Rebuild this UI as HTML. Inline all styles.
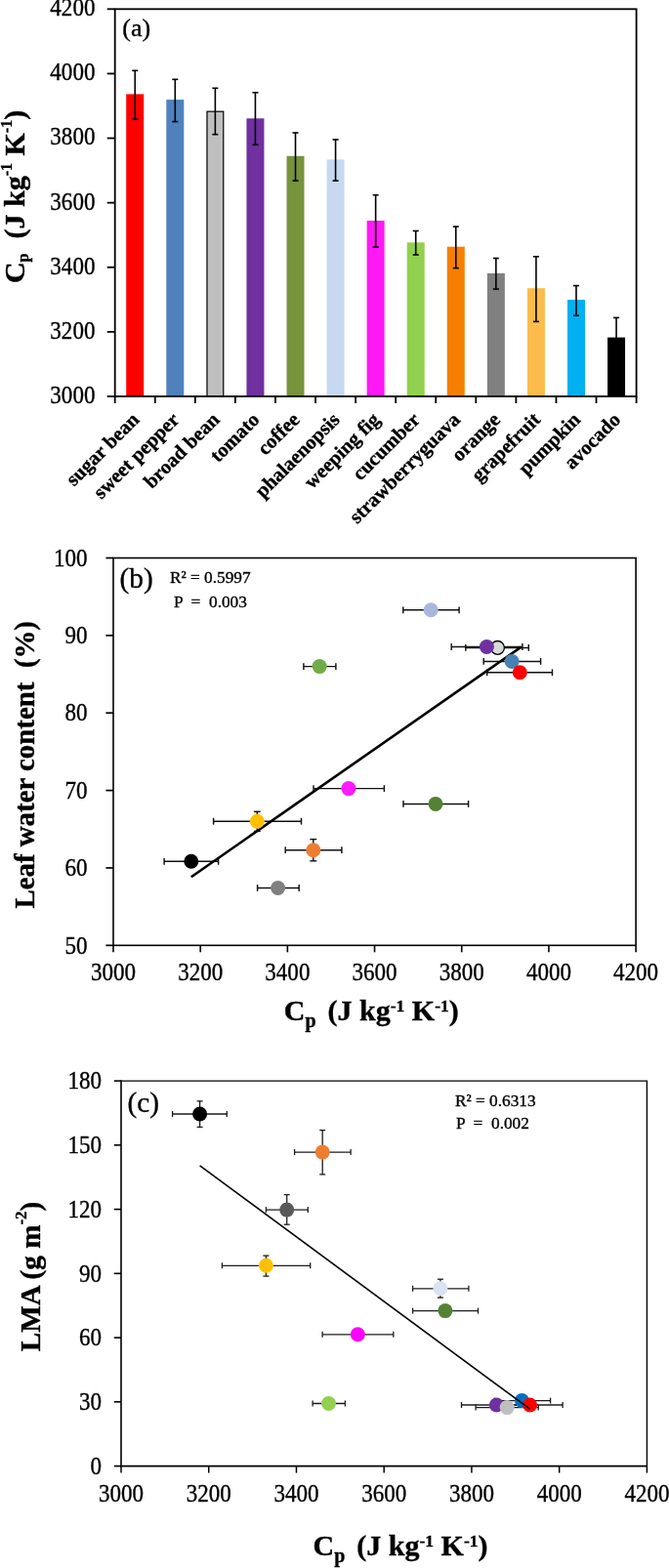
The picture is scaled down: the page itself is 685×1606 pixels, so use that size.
<!DOCTYPE html>
<html lang="en"><head><meta charset="utf-8"><title>Figure: leaf specific heat capacity</title>
<style>
html,body{margin:0;padding:0;background:#fff;}
body{width:685px;height:1606px;overflow:hidden;}
svg{display:block;}
text{font-family:"Liberation Serif", "DejaVu Serif", serif;fill:#000;stroke:#000;stroke-width:0.35px;white-space:pre;}
.tk{font-size:24px;}
.ax{font-size:30px;font-weight:bold;}
.cat{font-size:20.5px;font-weight:bold;}
.pl{font-size:26px;}
.pl2{font-size:29.3px;}
.st{font-size:17.3px;}
.sup{font-size:16px;font-weight:bold;}
</style></head><body>
<svg width="685" height="1606" viewBox="0 0 685 1606">
<rect x="0" y="0" width="685" height="1606" fill="#ffffff"/>
<g id="chart-a">
<rect x="129.23" y="96.4" width="18" height="309.6" fill="#FF0000"/>
<rect x="170.3" y="102.1" width="18" height="303.9" fill="#4F81BD"/>
<rect x="211.97" y="114.2" width="16.8" height="291.8" fill="#BFBFBF" stroke="#000" stroke-width="1.2"/>
<rect x="252.44" y="121.3" width="18" height="284.7" fill="#7030A0"/>
<rect x="293.51" y="159.8" width="18" height="246.2" fill="#77933C"/>
<rect x="334.58" y="163.4" width="18" height="242.6" fill="#C6D9F1"/>
<rect x="375.65" y="226" width="18" height="180" fill="#FF19F5"/>
<rect x="416.72" y="248.3" width="18" height="157.7" fill="#92D050"/>
<rect x="457.79" y="252.7" width="18" height="153.3" fill="#F77F00"/>
<rect x="498.86" y="279.9" width="18" height="126.1" fill="#808080"/>
<rect x="539.93" y="295.2" width="18" height="110.8" fill="#FBBC4B"/>
<rect x="581" y="307" width="18" height="99" fill="#00B0F0"/>
<rect x="622.07" y="345.6" width="18" height="60.4" fill="#000000"/>
<line x1="138.23" y1="72.3" x2="138.23" y2="122.1" stroke="#000" stroke-width="1.6"/>
<line x1="135.23" y1="72.3" x2="141.23" y2="72.3" stroke="#000" stroke-width="1.6"/>
<line x1="135.23" y1="122.1" x2="141.23" y2="122.1" stroke="#000" stroke-width="1.6"/>
<line x1="179.3" y1="81.3" x2="179.3" y2="124.6" stroke="#000" stroke-width="1.6"/>
<line x1="176.3" y1="81.3" x2="182.3" y2="81.3" stroke="#000" stroke-width="1.6"/>
<line x1="176.3" y1="124.6" x2="182.3" y2="124.6" stroke="#000" stroke-width="1.6"/>
<line x1="220.37" y1="90.3" x2="220.37" y2="137.7" stroke="#000" stroke-width="1.6"/>
<line x1="217.37" y1="90.3" x2="223.37" y2="90.3" stroke="#000" stroke-width="1.6"/>
<line x1="217.37" y1="137.7" x2="223.37" y2="137.7" stroke="#000" stroke-width="1.6"/>
<line x1="261.44" y1="94.8" x2="261.44" y2="148.3" stroke="#000" stroke-width="1.6"/>
<line x1="258.44" y1="94.8" x2="264.44" y2="94.8" stroke="#000" stroke-width="1.6"/>
<line x1="258.44" y1="148.3" x2="264.44" y2="148.3" stroke="#000" stroke-width="1.6"/>
<line x1="302.51" y1="136" x2="302.51" y2="185.1" stroke="#000" stroke-width="1.6"/>
<line x1="299.51" y1="136" x2="305.51" y2="136" stroke="#000" stroke-width="1.6"/>
<line x1="299.51" y1="185.1" x2="305.51" y2="185.1" stroke="#000" stroke-width="1.6"/>
<line x1="343.58" y1="143" x2="343.58" y2="185.1" stroke="#000" stroke-width="1.6"/>
<line x1="340.58" y1="143" x2="346.58" y2="143" stroke="#000" stroke-width="1.6"/>
<line x1="340.58" y1="185.1" x2="346.58" y2="185.1" stroke="#000" stroke-width="1.6"/>
<line x1="384.65" y1="199.7" x2="384.65" y2="253.1" stroke="#000" stroke-width="1.6"/>
<line x1="381.65" y1="199.7" x2="387.65" y2="199.7" stroke="#000" stroke-width="1.6"/>
<line x1="381.65" y1="253.1" x2="387.65" y2="253.1" stroke="#000" stroke-width="1.6"/>
<line x1="425.72" y1="236.5" x2="425.72" y2="261" stroke="#000" stroke-width="1.6"/>
<line x1="422.72" y1="236.5" x2="428.72" y2="236.5" stroke="#000" stroke-width="1.6"/>
<line x1="422.72" y1="261" x2="428.72" y2="261" stroke="#000" stroke-width="1.6"/>
<line x1="466.79" y1="232.1" x2="466.79" y2="274.6" stroke="#000" stroke-width="1.6"/>
<line x1="463.79" y1="232.1" x2="469.79" y2="232.1" stroke="#000" stroke-width="1.6"/>
<line x1="463.79" y1="274.6" x2="469.79" y2="274.6" stroke="#000" stroke-width="1.6"/>
<line x1="507.86" y1="264.5" x2="507.86" y2="296.1" stroke="#000" stroke-width="1.6"/>
<line x1="504.86" y1="264.5" x2="510.86" y2="264.5" stroke="#000" stroke-width="1.6"/>
<line x1="504.86" y1="296.1" x2="510.86" y2="296.1" stroke="#000" stroke-width="1.6"/>
<line x1="548.93" y1="262.8" x2="548.93" y2="329.4" stroke="#000" stroke-width="1.6"/>
<line x1="545.93" y1="262.8" x2="551.93" y2="262.8" stroke="#000" stroke-width="1.6"/>
<line x1="545.93" y1="329.4" x2="551.93" y2="329.4" stroke="#000" stroke-width="1.6"/>
<line x1="590" y1="292.6" x2="590" y2="323.2" stroke="#000" stroke-width="1.6"/>
<line x1="587" y1="292.6" x2="593" y2="292.6" stroke="#000" stroke-width="1.6"/>
<line x1="587" y1="323.2" x2="593" y2="323.2" stroke="#000" stroke-width="1.6"/>
<line x1="631.07" y1="325.4" x2="631.07" y2="365" stroke="#000" stroke-width="1.6"/>
<line x1="628.07" y1="325.4" x2="634.07" y2="325.4" stroke="#000" stroke-width="1.6"/>
<line x1="628.07" y1="365" x2="634.07" y2="365" stroke="#000" stroke-width="1.6"/>
<rect x="117.7" y="9.3" width="533.9" height="396.7" fill="none" stroke="#000" stroke-width="1.8"/>
<line x1="109.7" y1="406" x2="117.7" y2="406" stroke="#000" stroke-width="1.8"/>
<text class="tk" transform="translate(97.4 412.9) scale(0.96 1.035)" text-anchor="end">3000</text>
<line x1="109.7" y1="339.88" x2="117.7" y2="339.88" stroke="#000" stroke-width="1.8"/>
<text class="tk" transform="translate(97.4 346.78) scale(0.96 1.035)" text-anchor="end">3200</text>
<line x1="109.7" y1="273.77" x2="117.7" y2="273.77" stroke="#000" stroke-width="1.8"/>
<text class="tk" transform="translate(97.4 280.67) scale(0.96 1.035)" text-anchor="end">3400</text>
<line x1="109.7" y1="207.65" x2="117.7" y2="207.65" stroke="#000" stroke-width="1.8"/>
<text class="tk" transform="translate(97.4 214.55) scale(0.96 1.035)" text-anchor="end">3600</text>
<line x1="109.7" y1="141.53" x2="117.7" y2="141.53" stroke="#000" stroke-width="1.8"/>
<text class="tk" transform="translate(97.4 148.43) scale(0.96 1.035)" text-anchor="end">3800</text>
<line x1="109.7" y1="75.42" x2="117.7" y2="75.42" stroke="#000" stroke-width="1.8"/>
<text class="tk" transform="translate(97.4 82.32) scale(0.96 1.035)" text-anchor="end">4000</text>
<line x1="109.7" y1="9.3" x2="117.7" y2="9.3" stroke="#000" stroke-width="1.8"/>
<text class="tk" transform="translate(97.4 16.2) scale(0.96 1.035)" text-anchor="end">4200</text>
<line x1="117.7" y1="406" x2="117.7" y2="413" stroke="#000" stroke-width="1.8"/>
<line x1="158.77" y1="406" x2="158.77" y2="413" stroke="#000" stroke-width="1.8"/>
<line x1="199.84" y1="406" x2="199.84" y2="413" stroke="#000" stroke-width="1.8"/>
<line x1="240.91" y1="406" x2="240.91" y2="413" stroke="#000" stroke-width="1.8"/>
<line x1="281.98" y1="406" x2="281.98" y2="413" stroke="#000" stroke-width="1.8"/>
<line x1="323.05" y1="406" x2="323.05" y2="413" stroke="#000" stroke-width="1.8"/>
<line x1="364.12" y1="406" x2="364.12" y2="413" stroke="#000" stroke-width="1.8"/>
<line x1="405.18" y1="406" x2="405.18" y2="413" stroke="#000" stroke-width="1.8"/>
<line x1="446.25" y1="406" x2="446.25" y2="413" stroke="#000" stroke-width="1.8"/>
<line x1="487.32" y1="406" x2="487.32" y2="413" stroke="#000" stroke-width="1.8"/>
<line x1="528.39" y1="406" x2="528.39" y2="413" stroke="#000" stroke-width="1.8"/>
<line x1="569.46" y1="406" x2="569.46" y2="413" stroke="#000" stroke-width="1.8"/>
<line x1="610.53" y1="406" x2="610.53" y2="413" stroke="#000" stroke-width="1.8"/>
<line x1="651.6" y1="406" x2="651.6" y2="413" stroke="#000" stroke-width="1.8"/>
<text class="cat" x="143.6" y="431" text-anchor="end" transform="rotate(-45 143.6 431)">sugar bean</text>
<text class="cat" x="184.67" y="431" text-anchor="end" transform="rotate(-45 184.67 431)">sweet pepper</text>
<text class="cat" x="225.74" y="431" text-anchor="end" transform="rotate(-45 225.74 431)">broad bean</text>
<text class="cat" x="266.81" y="431" text-anchor="end" transform="rotate(-45 266.81 431)">tomato</text>
<text class="cat" x="307.88" y="431" text-anchor="end" transform="rotate(-45 307.88 431)">coffee</text>
<text class="cat" x="348.95" y="431" text-anchor="end" transform="rotate(-45 348.95 431)">phalaenopsis</text>
<text class="cat" x="390.02" y="431" text-anchor="end" transform="rotate(-45 390.02 431)">weeping fig</text>
<text class="cat" x="431.08" y="431" text-anchor="end" transform="rotate(-45 431.08 431)">cucumber</text>
<text class="cat" x="472.15" y="431" text-anchor="end" transform="rotate(-45 472.15 431)">strawberryguava</text>
<text class="cat" x="513.22" y="431" text-anchor="end" transform="rotate(-45 513.22 431)">orange</text>
<text class="cat" x="554.29" y="431" text-anchor="end" transform="rotate(-45 554.29 431)">grapefruit</text>
<text class="cat" x="595.36" y="431" text-anchor="end" transform="rotate(-45 595.36 431)">pumpkin</text>
<text class="cat" x="636.43" y="431" text-anchor="end" transform="rotate(-45 636.43 431)">avocado</text>
<text class="pl" x="125.3" y="37.2">(a)</text>
<text class="ax" x="24.9" y="201.5" text-anchor="middle" xml:space="preserve" transform="rotate(-90 24.9 201.5)">C<tspan font-size="16" font-weight="bold" dy="4.5">p</tspan><tspan dy="-4.5" dx="0">  (J kg</tspan><tspan font-size="16" font-weight="bold" dy="-13">-1</tspan><tspan dy="13"> K</tspan><tspan font-size="16" font-weight="bold" dy="-13">-1</tspan><tspan dy="13">)</tspan></text>
</g>
<g id="chart-b">
<line x1="412.8" y1="624.8" x2="470.1" y2="624.8" stroke="#111" stroke-width="1.45"/>
<line x1="412.8" y1="621.4" x2="412.8" y2="628.2" stroke="#111" stroke-width="1.45"/>
<line x1="470.1" y1="621.4" x2="470.1" y2="628.2" stroke="#111" stroke-width="1.45"/>
<line x1="476.8" y1="663.4" x2="541.3" y2="663.4" stroke="#111" stroke-width="1.45"/>
<line x1="476.8" y1="660" x2="476.8" y2="666.8" stroke="#111" stroke-width="1.45"/>
<line x1="541.3" y1="660" x2="541.3" y2="666.8" stroke="#111" stroke-width="1.45"/>
<line x1="462.2" y1="662.5" x2="534.9" y2="662.5" stroke="#111" stroke-width="1.45"/>
<line x1="462.2" y1="659.1" x2="462.2" y2="665.9" stroke="#111" stroke-width="1.45"/>
<line x1="534.9" y1="659.1" x2="534.9" y2="665.9" stroke="#111" stroke-width="1.45"/>
<line x1="495.2" y1="677.4" x2="553.6" y2="677.4" stroke="#111" stroke-width="1.45"/>
<line x1="495.2" y1="674" x2="495.2" y2="680.8" stroke="#111" stroke-width="1.45"/>
<line x1="553.6" y1="674" x2="553.6" y2="680.8" stroke="#111" stroke-width="1.45"/>
<line x1="498.7" y1="688.8" x2="565.5" y2="688.8" stroke="#111" stroke-width="1.45"/>
<line x1="498.7" y1="685.4" x2="498.7" y2="692.2" stroke="#111" stroke-width="1.45"/>
<line x1="565.5" y1="685.4" x2="565.5" y2="692.2" stroke="#111" stroke-width="1.45"/>
<line x1="310.9" y1="682.6" x2="343.9" y2="682.6" stroke="#111" stroke-width="1.45"/>
<line x1="310.9" y1="679.2" x2="310.9" y2="686" stroke="#111" stroke-width="1.45"/>
<line x1="343.9" y1="679.2" x2="343.9" y2="686" stroke="#111" stroke-width="1.45"/>
<line x1="321" y1="807.6" x2="393.4" y2="807.6" stroke="#111" stroke-width="1.45"/>
<line x1="321" y1="804.2" x2="321" y2="811" stroke="#111" stroke-width="1.45"/>
<line x1="393.4" y1="804.2" x2="393.4" y2="811" stroke="#111" stroke-width="1.45"/>
<line x1="413" y1="823.4" x2="479.6" y2="823.4" stroke="#111" stroke-width="1.45"/>
<line x1="413" y1="820" x2="413" y2="826.8" stroke="#111" stroke-width="1.45"/>
<line x1="479.6" y1="820" x2="479.6" y2="826.8" stroke="#111" stroke-width="1.45"/>
<line x1="218.6" y1="841.2" x2="308.5" y2="841.2" stroke="#111" stroke-width="1.45"/>
<line x1="218.6" y1="837.8" x2="218.6" y2="844.6" stroke="#111" stroke-width="1.45"/>
<line x1="308.5" y1="837.8" x2="308.5" y2="844.6" stroke="#111" stroke-width="1.45"/>
<line x1="263.3" y1="831.3" x2="263.3" y2="851.4" stroke="#111" stroke-width="1.45"/>
<line x1="259.9" y1="831.3" x2="266.7" y2="831.3" stroke="#111" stroke-width="1.45"/>
<line x1="259.9" y1="851.4" x2="266.7" y2="851.4" stroke="#111" stroke-width="1.45"/>
<line x1="292.2" y1="870.7" x2="349.9" y2="870.7" stroke="#111" stroke-width="1.45"/>
<line x1="292.2" y1="867.3" x2="292.2" y2="874.1" stroke="#111" stroke-width="1.45"/>
<line x1="349.9" y1="867.3" x2="349.9" y2="874.1" stroke="#111" stroke-width="1.45"/>
<line x1="320.8" y1="859.6" x2="320.8" y2="881.8" stroke="#111" stroke-width="1.45"/>
<line x1="317.4" y1="859.6" x2="324.2" y2="859.6" stroke="#111" stroke-width="1.45"/>
<line x1="317.4" y1="881.8" x2="324.2" y2="881.8" stroke="#111" stroke-width="1.45"/>
<line x1="168.1" y1="882.3" x2="223.6" y2="882.3" stroke="#111" stroke-width="1.45"/>
<line x1="168.1" y1="878.9" x2="168.1" y2="885.7" stroke="#111" stroke-width="1.45"/>
<line x1="223.6" y1="878.9" x2="223.6" y2="885.7" stroke="#111" stroke-width="1.45"/>
<line x1="263.6" y1="909.5" x2="306.2" y2="909.5" stroke="#111" stroke-width="1.45"/>
<line x1="263.6" y1="906.1" x2="263.6" y2="912.9" stroke="#111" stroke-width="1.45"/>
<line x1="306.2" y1="906.1" x2="306.2" y2="912.9" stroke="#111" stroke-width="1.45"/>
<line x1="195.8" y1="898.2" x2="533.7" y2="662.6" stroke="#000" stroke-width="2.6" stroke-linecap="butt"/>
<circle cx="441.2" cy="624.8" r="7.5" fill="#A9B7DF"/>
<circle cx="509.5" cy="663.4" r="6.9" fill="#D9D9D9" stroke="#000" stroke-width="1.3"/>
<circle cx="498.4" cy="662.5" r="7.5" fill="#7030A0"/>
<circle cx="524.1" cy="677.4" r="7.5" fill="#4682B4"/>
<circle cx="532.3" cy="688.8" r="7.5" fill="#FF0000"/>
<circle cx="327.2" cy="682.6" r="7.5" fill="#70AD47"/>
<circle cx="356.9" cy="807.6" r="7.5" fill="#FF19FF"/>
<circle cx="446" cy="823.4" r="7.5" fill="#548235"/>
<circle cx="263.3" cy="841.2" r="7.5" fill="#FFC000"/>
<circle cx="320.8" cy="870.7" r="7.5" fill="#ED7D31"/>
<circle cx="195.8" cy="882.3" r="7.5" fill="#000000"/>
<circle cx="284.6" cy="909.5" r="7.5" fill="#808080"/>
<rect x="116" y="571.5" width="535.1" height="396.8" fill="none" stroke="#000" stroke-width="1.6"/>
<line x1="108.4" y1="968.3" x2="116" y2="968.3" stroke="#000" stroke-width="1.7"/>
<text class="tk" transform="translate(89.5 976.5) scale(0.96 1.035)" text-anchor="end">50</text>
<line x1="108.4" y1="888.94" x2="116" y2="888.94" stroke="#000" stroke-width="1.7"/>
<text class="tk" transform="translate(89.5 897.14) scale(0.96 1.035)" text-anchor="end">60</text>
<line x1="108.4" y1="809.58" x2="116" y2="809.58" stroke="#000" stroke-width="1.7"/>
<text class="tk" transform="translate(89.5 817.78) scale(0.96 1.035)" text-anchor="end">70</text>
<line x1="108.4" y1="730.22" x2="116" y2="730.22" stroke="#000" stroke-width="1.7"/>
<text class="tk" transform="translate(89.5 738.42) scale(0.96 1.035)" text-anchor="end">80</text>
<line x1="108.4" y1="650.86" x2="116" y2="650.86" stroke="#000" stroke-width="1.7"/>
<text class="tk" transform="translate(89.5 659.06) scale(0.96 1.035)" text-anchor="end">90</text>
<line x1="108.4" y1="571.5" x2="116" y2="571.5" stroke="#000" stroke-width="1.7"/>
<text class="tk" transform="translate(89.5 579.7) scale(0.96 1.035)" text-anchor="end">100</text>
<line x1="116" y1="968.3" x2="116" y2="975.3" stroke="#000" stroke-width="1.6"/>
<text class="tk" transform="translate(116 1003.6) scale(0.96 1.035)" text-anchor="middle">3000</text>
<line x1="205.18" y1="968.3" x2="205.18" y2="975.3" stroke="#000" stroke-width="1.6"/>
<text class="tk" transform="translate(205.18 1003.6) scale(0.96 1.035)" text-anchor="middle">3200</text>
<line x1="294.37" y1="968.3" x2="294.37" y2="975.3" stroke="#000" stroke-width="1.6"/>
<text class="tk" transform="translate(294.37 1003.6) scale(0.96 1.035)" text-anchor="middle">3400</text>
<line x1="383.55" y1="968.3" x2="383.55" y2="975.3" stroke="#000" stroke-width="1.6"/>
<text class="tk" transform="translate(383.55 1003.6) scale(0.96 1.035)" text-anchor="middle">3600</text>
<line x1="472.73" y1="968.3" x2="472.73" y2="975.3" stroke="#000" stroke-width="1.6"/>
<text class="tk" transform="translate(472.73 1003.6) scale(0.96 1.035)" text-anchor="middle">3800</text>
<line x1="561.92" y1="968.3" x2="561.92" y2="975.3" stroke="#000" stroke-width="1.6"/>
<text class="tk" transform="translate(561.92 1003.6) scale(0.96 1.035)" text-anchor="middle">4000</text>
<line x1="651.1" y1="968.3" x2="651.1" y2="975.3" stroke="#000" stroke-width="1.6"/>
<text class="tk" transform="translate(651.1 1003.6) scale(0.96 1.035)" text-anchor="middle">4200</text>
<text class="pl2" x="122.5" y="602.1">(b)</text>
<text class="st" x="174" y="597" xml:space="preserve">R² = 0.5997</text>
<text class="st" x="178" y="622" xml:space="preserve">P  =  0.003</text>
<text class="ax" text-anchor="middle" xml:space="preserve" transform="translate(34.5 783.3) rotate(-90) scale(0.963 1)">Leaf water content  (%)</text>
<text class="ax" x="380.3" y="1045" text-anchor="middle" xml:space="preserve">C<tspan font-size="20" font-weight="bold" dy="7">p</tspan><tspan dy="-7" dx="-3">  (J kg</tspan><tspan font-size="17.5" font-weight="bold" dy="-9.2">-1</tspan><tspan dy="9.2"> K</tspan><tspan font-size="17.5" font-weight="bold" dy="-9.2">-1</tspan><tspan dy="9.2">)</tspan></text>
</g>
<g id="chart-c">
<line x1="176.6" y1="1141" x2="232.3" y2="1141" stroke="#1c1c1c" stroke-width="1.3"/>
<line x1="176.6" y1="1138" x2="176.6" y2="1144" stroke="#1c1c1c" stroke-width="1.3"/>
<line x1="232.3" y1="1138" x2="232.3" y2="1144" stroke="#1c1c1c" stroke-width="1.3"/>
<line x1="204.6" y1="1127.8" x2="204.6" y2="1154.4" stroke="#1c1c1c" stroke-width="1.3"/>
<line x1="201.6" y1="1127.8" x2="207.6" y2="1127.8" stroke="#1c1c1c" stroke-width="1.3"/>
<line x1="201.6" y1="1154.4" x2="207.6" y2="1154.4" stroke="#1c1c1c" stroke-width="1.3"/>
<line x1="301.6" y1="1180.1" x2="359.1" y2="1180.1" stroke="#1c1c1c" stroke-width="1.3"/>
<line x1="301.6" y1="1177.1" x2="301.6" y2="1183.1" stroke="#1c1c1c" stroke-width="1.3"/>
<line x1="359.1" y1="1177.1" x2="359.1" y2="1183.1" stroke="#1c1c1c" stroke-width="1.3"/>
<line x1="330.2" y1="1157.6" x2="330.2" y2="1202.9" stroke="#1c1c1c" stroke-width="1.3"/>
<line x1="327.2" y1="1157.6" x2="333.2" y2="1157.6" stroke="#1c1c1c" stroke-width="1.3"/>
<line x1="327.2" y1="1202.9" x2="333.2" y2="1202.9" stroke="#1c1c1c" stroke-width="1.3"/>
<line x1="272.4" y1="1239.1" x2="315.3" y2="1239.1" stroke="#1c1c1c" stroke-width="1.3"/>
<line x1="272.4" y1="1236.1" x2="272.4" y2="1242.1" stroke="#1c1c1c" stroke-width="1.3"/>
<line x1="315.3" y1="1236.1" x2="315.3" y2="1242.1" stroke="#1c1c1c" stroke-width="1.3"/>
<line x1="293.7" y1="1223.6" x2="293.7" y2="1254.2" stroke="#1c1c1c" stroke-width="1.3"/>
<line x1="290.7" y1="1223.6" x2="296.7" y2="1223.6" stroke="#1c1c1c" stroke-width="1.3"/>
<line x1="290.7" y1="1254.2" x2="296.7" y2="1254.2" stroke="#1c1c1c" stroke-width="1.3"/>
<line x1="227.4" y1="1296.3" x2="317.7" y2="1296.3" stroke="#1c1c1c" stroke-width="1.3"/>
<line x1="227.4" y1="1293.3" x2="227.4" y2="1299.3" stroke="#1c1c1c" stroke-width="1.3"/>
<line x1="317.7" y1="1293.3" x2="317.7" y2="1299.3" stroke="#1c1c1c" stroke-width="1.3"/>
<line x1="272.4" y1="1286.1" x2="272.4" y2="1307.1" stroke="#1c1c1c" stroke-width="1.3"/>
<line x1="269.4" y1="1286.1" x2="275.4" y2="1286.1" stroke="#1c1c1c" stroke-width="1.3"/>
<line x1="269.4" y1="1307.1" x2="275.4" y2="1307.1" stroke="#1c1c1c" stroke-width="1.3"/>
<line x1="422.6" y1="1319.8" x2="479.9" y2="1319.8" stroke="#1c1c1c" stroke-width="1.3"/>
<line x1="422.6" y1="1316.8" x2="422.6" y2="1322.8" stroke="#1c1c1c" stroke-width="1.3"/>
<line x1="479.9" y1="1316.8" x2="479.9" y2="1322.8" stroke="#1c1c1c" stroke-width="1.3"/>
<line x1="450.9" y1="1310.2" x2="450.9" y2="1329.1" stroke="#1c1c1c" stroke-width="1.3"/>
<line x1="447.9" y1="1310.2" x2="453.9" y2="1310.2" stroke="#1c1c1c" stroke-width="1.3"/>
<line x1="447.9" y1="1329.1" x2="453.9" y2="1329.1" stroke="#1c1c1c" stroke-width="1.3"/>
<line x1="422.6" y1="1342.6" x2="489.5" y2="1342.6" stroke="#1c1c1c" stroke-width="1.3"/>
<line x1="422.6" y1="1339.6" x2="422.6" y2="1345.6" stroke="#1c1c1c" stroke-width="1.3"/>
<line x1="489.5" y1="1339.6" x2="489.5" y2="1345.6" stroke="#1c1c1c" stroke-width="1.3"/>
<line x1="330.1" y1="1366.8" x2="402.8" y2="1366.8" stroke="#1c1c1c" stroke-width="1.3"/>
<line x1="330.1" y1="1363.8" x2="330.1" y2="1369.8" stroke="#1c1c1c" stroke-width="1.3"/>
<line x1="402.8" y1="1363.8" x2="402.8" y2="1369.8" stroke="#1c1c1c" stroke-width="1.3"/>
<line x1="320.1" y1="1437.5" x2="353.4" y2="1437.5" stroke="#1c1c1c" stroke-width="1.3"/>
<line x1="320.1" y1="1434.5" x2="320.1" y2="1440.5" stroke="#1c1c1c" stroke-width="1.3"/>
<line x1="353.4" y1="1434.5" x2="353.4" y2="1440.5" stroke="#1c1c1c" stroke-width="1.3"/>
<line x1="472.5" y1="1439" x2="546" y2="1439" stroke="#1c1c1c" stroke-width="1.3"/>
<line x1="472.5" y1="1436" x2="472.5" y2="1442" stroke="#1c1c1c" stroke-width="1.3"/>
<line x1="546" y1="1436" x2="546" y2="1442" stroke="#1c1c1c" stroke-width="1.3"/>
<line x1="487.1" y1="1441.6" x2="551.3" y2="1441.6" stroke="#1c1c1c" stroke-width="1.3"/>
<line x1="487.1" y1="1438.6" x2="487.1" y2="1444.6" stroke="#1c1c1c" stroke-width="1.3"/>
<line x1="551.3" y1="1438.6" x2="551.3" y2="1444.6" stroke="#1c1c1c" stroke-width="1.3"/>
<line x1="506.5" y1="1434.6" x2="563.6" y2="1434.6" stroke="#1c1c1c" stroke-width="1.3"/>
<line x1="506.5" y1="1431.6" x2="506.5" y2="1437.6" stroke="#1c1c1c" stroke-width="1.3"/>
<line x1="563.6" y1="1431.6" x2="563.6" y2="1437.6" stroke="#1c1c1c" stroke-width="1.3"/>
<line x1="510" y1="1439" x2="576.1" y2="1439" stroke="#1c1c1c" stroke-width="1.3"/>
<line x1="510" y1="1436" x2="510" y2="1442" stroke="#1c1c1c" stroke-width="1.3"/>
<line x1="576.1" y1="1436" x2="576.1" y2="1442" stroke="#1c1c1c" stroke-width="1.3"/>
<circle cx="204.6" cy="1141" r="7.5" fill="#000000"/>
<circle cx="330.2" cy="1180.1" r="7.5" fill="#ED7D31"/>
<circle cx="293.7" cy="1239.1" r="7.5" fill="#595959"/>
<circle cx="272.4" cy="1296.3" r="7.5" fill="#FFC000"/>
<circle cx="450.9" cy="1319.8" r="7.5" fill="#DAE3F3"/>
<circle cx="455.9" cy="1342.6" r="7.5" fill="#548235"/>
<circle cx="366.3" cy="1366.8" r="7.5" fill="#FF00FF"/>
<circle cx="336.5" cy="1437.5" r="7.5" fill="#92D050"/>
<circle cx="508.4" cy="1439" r="7.5" fill="#7030A0"/>
<circle cx="519.2" cy="1441.6" r="7.5" fill="#BFBFBF"/>
<circle cx="534.4" cy="1434.6" r="7.5" fill="#0070C0"/>
<circle cx="542.6" cy="1439" r="7.5" fill="#FF0000"/>
<line x1="204.6" y1="1193.8" x2="542.6" y2="1443.2" stroke="#000" stroke-width="1.6"/>
<path d="M124 1107.1H662.4V1501.6" fill="none" stroke="#000" stroke-width="1.35"/>
<path d="M124 1106.5V1501.6H663" fill="none" stroke="#000" stroke-width="1.6"/>
<line x1="116.8" y1="1501.6" x2="124" y2="1501.6" stroke="#000" stroke-width="1.6"/>
<text class="tk" transform="translate(104.1 1509.8) scale(0.96 1.035)" text-anchor="end">0</text>
<line x1="116.8" y1="1435.85" x2="124" y2="1435.85" stroke="#000" stroke-width="1.6"/>
<text class="tk" transform="translate(104.1 1444.05) scale(0.96 1.035)" text-anchor="end">30</text>
<line x1="116.8" y1="1370.1" x2="124" y2="1370.1" stroke="#000" stroke-width="1.6"/>
<text class="tk" transform="translate(104.1 1378.3) scale(0.96 1.035)" text-anchor="end">60</text>
<line x1="116.8" y1="1304.35" x2="124" y2="1304.35" stroke="#000" stroke-width="1.6"/>
<text class="tk" transform="translate(104.1 1312.55) scale(0.96 1.035)" text-anchor="end">90</text>
<line x1="116.8" y1="1238.6" x2="124" y2="1238.6" stroke="#000" stroke-width="1.6"/>
<text class="tk" transform="translate(104.1 1246.8) scale(0.96 1.035)" text-anchor="end">120</text>
<line x1="116.8" y1="1172.85" x2="124" y2="1172.85" stroke="#000" stroke-width="1.6"/>
<text class="tk" transform="translate(104.1 1181.05) scale(0.96 1.035)" text-anchor="end">150</text>
<line x1="116.8" y1="1107.1" x2="124" y2="1107.1" stroke="#000" stroke-width="1.6"/>
<text class="tk" transform="translate(104.1 1115.3) scale(0.96 1.035)" text-anchor="end">180</text>
<line x1="124" y1="1501.6" x2="124" y2="1508.6" stroke="#000" stroke-width="1.5"/>
<text class="tk" transform="translate(124 1537.7) scale(0.96 1.035)" text-anchor="middle">3000</text>
<line x1="213.73" y1="1501.6" x2="213.73" y2="1508.6" stroke="#000" stroke-width="1.5"/>
<text class="tk" transform="translate(213.73 1537.7) scale(0.96 1.035)" text-anchor="middle">3200</text>
<line x1="303.47" y1="1501.6" x2="303.47" y2="1508.6" stroke="#000" stroke-width="1.5"/>
<text class="tk" transform="translate(303.47 1537.7) scale(0.96 1.035)" text-anchor="middle">3400</text>
<line x1="393.2" y1="1501.6" x2="393.2" y2="1508.6" stroke="#000" stroke-width="1.5"/>
<text class="tk" transform="translate(393.2 1537.7) scale(0.96 1.035)" text-anchor="middle">3600</text>
<line x1="482.93" y1="1501.6" x2="482.93" y2="1508.6" stroke="#000" stroke-width="1.5"/>
<text class="tk" transform="translate(482.93 1537.7) scale(0.96 1.035)" text-anchor="middle">3800</text>
<line x1="572.67" y1="1501.6" x2="572.67" y2="1508.6" stroke="#000" stroke-width="1.5"/>
<text class="tk" transform="translate(572.67 1537.7) scale(0.96 1.035)" text-anchor="middle">4000</text>
<line x1="662.4" y1="1501.6" x2="662.4" y2="1508.6" stroke="#000" stroke-width="1.5"/>
<text class="tk" transform="translate(662.4 1537.7) scale(0.96 1.035)" text-anchor="middle">4200</text>
<text class="pl2" x="130.5" y="1139">(c)</text>
<text class="st" x="466" y="1132.5" xml:space="preserve">R² = 0.6313</text>
<text class="st" x="467" y="1155.5" xml:space="preserve">P  =  0.002</text>
<text class="ax" text-anchor="middle" xml:space="preserve" transform="translate(41 1307.5) rotate(-90) scale(0.972 1)">LMA (g m<tspan font-size="17.3" font-weight="bold" dy="-14">-2</tspan><tspan dy="14">)</tspan></text>
<text class="ax" x="410" y="1593" text-anchor="middle" xml:space="preserve">C<tspan font-size="20" font-weight="bold" dy="7">p</tspan><tspan dy="-7" dx="-3">  (J kg</tspan><tspan font-size="17.5" font-weight="bold" dy="-9.2">-1</tspan><tspan dy="9.2"> K</tspan><tspan font-size="17.5" font-weight="bold" dy="-9.2">-1</tspan><tspan dy="9.2">)</tspan></text>
</g>
</svg></body></html>
